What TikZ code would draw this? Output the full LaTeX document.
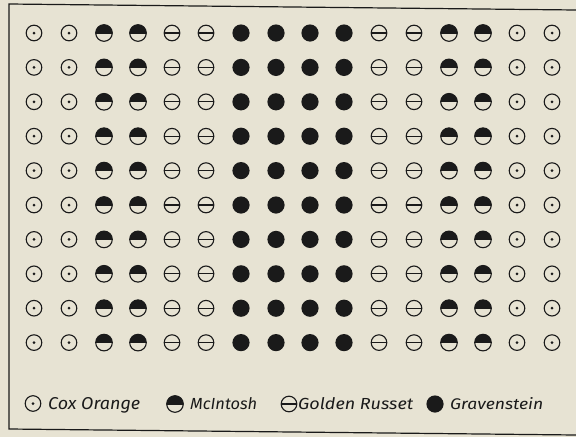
\documentclass[tikz,border=0pt]{standalone}
\usepackage{fontspec}
\setmainfont{Fira Sans}
\usetikzlibrary{calc}
\definecolor{paper}{HTML}{E7E3D3}
\definecolor{ink}{HTML}{1A1A1A}
\tikzset{
  sym/.style={draw=ink, line width=1.1pt},
  lab/.style={anchor=base west, inner sep=0pt, text=ink, font=\itshape\fontsize{15}{15}\selectfont},
}
\newcommand{\coxsym}[1]{%
  \draw[sym] (#1) circle (7.8);
  \fill[ink] (#1) circle (1.5);}
\newcommand{\mcisym}[1]{%
  \fill[ink] ($(#1)+(-8.3,0)$) arc (180:360:8.3) -- cycle;
  \draw[sym] (#1) circle (8.3);
  \draw[sym] ($(#1)+(-8.3,0)$) -- ($(#1)+(8.3,0)$);}
\newcommand{\russym}[1]{%
  \draw[sym] (#1) circle (7.8);
  \draw[sym] ($(#1)+(-7.8,0)$) -- ($(#1)+(7.8,0)$);}
\newcommand{\gravsym}[1]{%
  \fill[ink] (#1) circle (8.6);}
\newcommand{\anysym}[2]{\ifcase#1\or\coxsym{#2}\or\mcisym{#2}\or\russym{#2}\or\gravsym{#2}\fi}
\begin{document}
\begin{tikzpicture}[x=1pt,y=-1pt]
\fill[paper] (0,0) rectangle (576,437);
\useasboundingbox (0,0) rectangle (576,437);
% frame
\draw[ink, line width=1.2pt] (576,10) -- (9,4) -- (9,429) -- (576,435);
% grid
\foreach \c/\x/\k in {1/34/1,2/69/1,3/104/2,4/138/2,5/172/3,6/206/3,7/241/4,8/276/4,9/310/4,10/344/4,11/379/3,12/414/3,13/449/2,14/483/2,15/517/1,16/552/1}{
  \foreach \r in {0,...,9}{
    \coordinate (p\c-\r) at (\x,{33+34.4*\r});
    \anysym{\k}{p\c-\r}
  }
}
% legend
\coordinate (lc) at (33,403.5);
\coordinate (lm) at (175,404);
\coordinate (lr) at (289,404);
\coordinate (lg) at (435,404);
\coxsym{lc}
\mcisym{lm}
\russym{lr}
\gravsym{lg}
\node[lab] (tc) at (48,409) {\resizebox{92pt}{12pt}{Cox Orange}};
\node[lab] (tm) at (190,409) {\resizebox{67pt}{12pt}{McIntosh}};
\node[lab] (tr) at (298,409) {\resizebox{115pt}{12pt}{Golden Russet}};
\node[lab] (tg) at (450,409) {\resizebox{93pt}{12pt}{Gravenstein}};
\end{tikzpicture}
\end{document}
